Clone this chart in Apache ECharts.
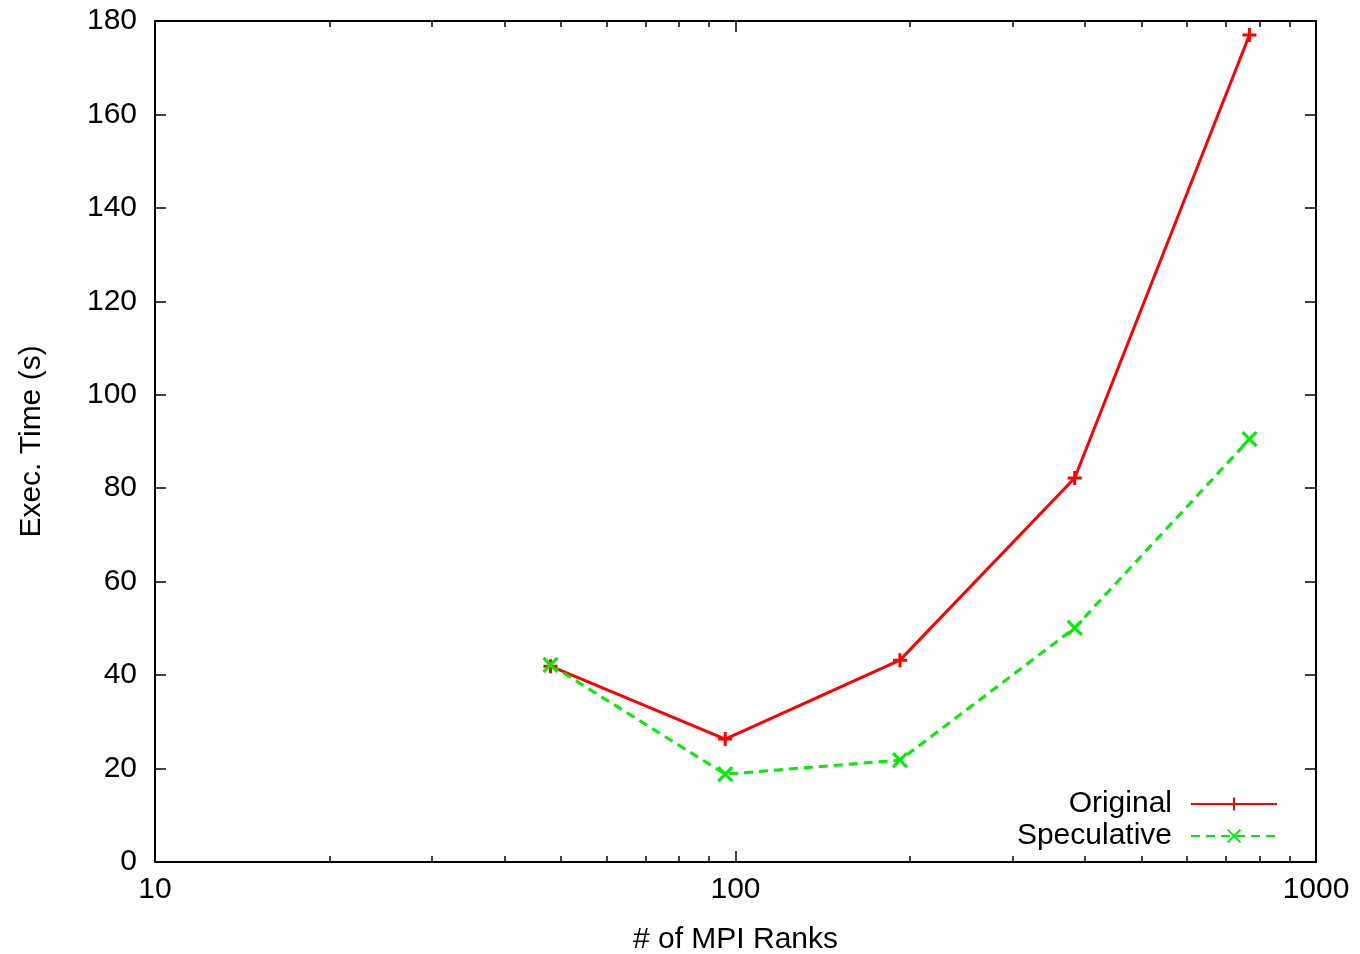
<!DOCTYPE html>
<html>
<head>
<meta charset="utf-8">
<script src="https://cdn.jsdelivr.net/npm/echarts@6/dist/echarts.min.js"></script>
<style>
html,body{margin:0;padding:0;background:#fff;}
#chart{width:1360px;height:954px;}
</style>
</head>
<body>
<div id="chart"></div>
<script>
const ranks = [48, 96, 192, 384, 768];
const original = [41.9, 26.3, 43.2, 82.2, 177.0];
const speculative = [42.2, 18.8, 21.8, 50.1, 90.5];
const xMajorTicks = [10, 100, 1000];
const xMinorTicks = [20, 30, 40, 50, 60, 70, 80, 90, 200, 300, 400, 500, 600, 700, 800, 900];
const seriesNames = ['Original', 'Speculative'];

const FONT = 'Liberation Sans, Arial, Helvetica, sans-serif';
const FS = 30;
const plusPath = 'path://M0,5 L10,5 M5,0 L5,10';
const crossPath = 'path://M0,0 L10,10 M10,0 L0,10';

function xAxisDef(pos, ticks, len, showLine, showLabel) {
  return {
    type: 'log', logBase: 10, min: 10, max: 1000, position: pos,
    axisLine: {show: showLine, onZero: false, lineStyle: {color: '#000', width: 2}},
    axisTick: {show: true, inside: true, length: len, customValues: ticks, lineStyle: {color: '#000', width: 1.5}},
    axisLabel: {show: showLabel, customValues: ticks, color: '#000', fontFamily: FONT, fontSize: FS, margin: 13,
      formatter: v => String(v)},
    splitLine: {show: false}, minorTick: {show: false}
  };
}

const chart = echarts.init(document.getElementById('chart'), null, {renderer: 'canvas'});
chart.setOption({
  backgroundColor: '#fff',
  animation: false,
  grid: {left: 155, right: 44, top: 21, bottom: 92, containLabel: false, outerBoundsMode: 'none'},
  xAxis: [
    Object.assign(xAxisDef('bottom', xMajorTicks, 11, true, true), {
      name: '# of MPI Ranks', nameLocation: 'middle', nameGap: 63,
      nameTextStyle: {color: '#000', fontFamily: FONT, fontSize: FS}
    }),
    xAxisDef('bottom', xMinorTicks, 6, false, false),
    xAxisDef('top', xMajorTicks, 11, true, false),
    xAxisDef('top', xMinorTicks, 6, false, false)
  ],
  yAxis: [
    {
      type: 'value', min: 0, max: 180, interval: 20, position: 'left',
      name: 'Exec. Time (s)', nameLocation: 'middle', nameGap: 108,
      nameTextStyle: {color: '#000', fontFamily: FONT, fontSize: FS},
      axisLine: {show: true, lineStyle: {color: '#000', width: 2}},
      axisTick: {show: true, inside: true, length: 11, lineStyle: {color: '#000', width: 1.5}},
      axisLabel: {color: '#000', fontFamily: FONT, fontSize: FS, margin: 18},
      splitLine: {show: false}
    },
    {
      type: 'value', min: 0, max: 180, interval: 20, position: 'right',
      axisLine: {show: true, lineStyle: {color: '#000', width: 2}},
      axisTick: {show: true, inside: true, length: 11, lineStyle: {color: '#000', width: 1.5}},
      axisLabel: {show: false},
      splitLine: {show: false}
    }
  ],
  legend: {
    orient: 'vertical', right: 82, top: 789, align: 'right', padding: 0,
    itemWidth: 86, itemHeight: 16, itemGap: 2,
    textStyle: {color: '#000', fontFamily: FONT, fontSize: FS, padding: [0, 14, 0, 0]},
    data: seriesNames
  },
  series: [
    {
      name: seriesNames[0], type: 'line',
      data: ranks.map((r, i) => [r, original[i]]),
      symbol: plusPath, symbolSize: 14,
      lineStyle: {color: '#ff0000', width: 3},
      itemStyle: {color: '#ff0000', borderColor: '#ff0000', borderWidth: 3}
    },
    {
      name: seriesNames[1], type: 'line',
      data: ranks.map((r, i) => [r, speculative[i]]),
      symbol: crossPath, symbolSize: 14,
      lineStyle: {color: '#00ee00', width: 3, type: [9, 6]},
      itemStyle: {color: '#00ee00', borderColor: '#00ee00', borderWidth: 3}
    }
  ]
});
</script>
</body>
</html>
